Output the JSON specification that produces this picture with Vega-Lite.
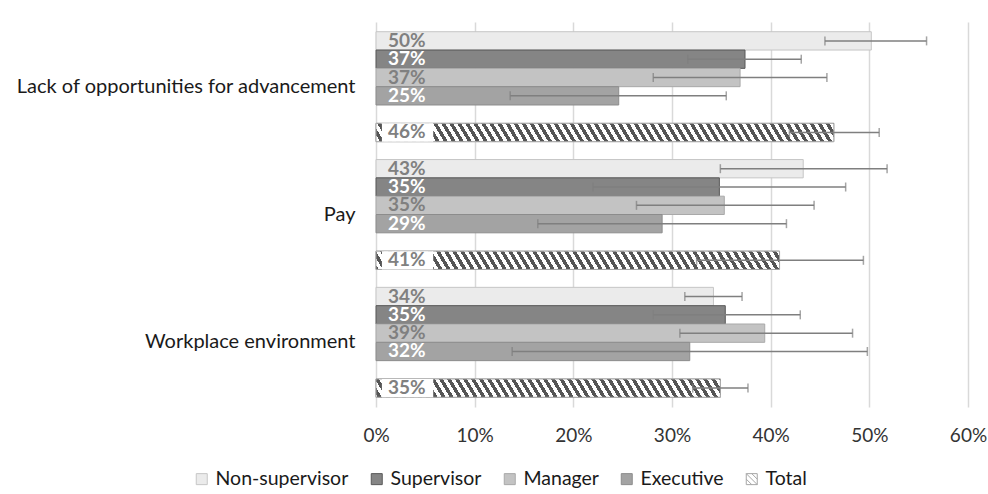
{
"$schema": "https://vega.github.io/schema/vega-lite/v6.json",
"width": 592,
"height": 385,
"autosize": "none",
"padding": {"left": 376, "top": 22, "right": 20, "bottom": 87},
"background": "white",
"config": {"font": "Lato", "view": {"stroke": null}},
"params": [{"name": "hatch", "value": [
{"offset":0,"color":"#555"},{"offset":0.008,"color":"#555"},{"offset":0.008,"color":"#fff"},{"offset":0.016,"color":"#fff"},
{"offset":0.016,"color":"#555"},{"offset":0.024,"color":"#555"},{"offset":0.024,"color":"#fff"},{"offset":0.032,"color":"#fff"},
{"offset":0.032,"color":"#555"},{"offset":0.04,"color":"#555"},{"offset":0.04,"color":"#fff"},{"offset":0.048,"color":"#fff"},
{"offset":0.048,"color":"#555"},{"offset":0.056,"color":"#555"},{"offset":0.056,"color":"#fff"},{"offset":0.064,"color":"#fff"},
{"offset":0.064,"color":"#555"},{"offset":0.072,"color":"#555"},{"offset":0.072,"color":"#fff"},{"offset":0.08,"color":"#fff"},
{"offset":0.08,"color":"#555"},{"offset":0.088,"color":"#555"},{"offset":0.088,"color":"#fff"},{"offset":0.096,"color":"#fff"},
{"offset":0.096,"color":"#555"},{"offset":0.104,"color":"#555"},{"offset":0.104,"color":"#fff"},{"offset":0.112,"color":"#fff"},
{"offset":0.112,"color":"#555"},{"offset":0.12,"color":"#555"},{"offset":0.12,"color":"#fff"},{"offset":0.128,"color":"#fff"},
{"offset":0.128,"color":"#555"},{"offset":0.136,"color":"#555"},{"offset":0.136,"color":"#fff"},{"offset":0.144,"color":"#fff"},
{"offset":0.144,"color":"#555"},{"offset":0.152,"color":"#555"},{"offset":0.152,"color":"#fff"},{"offset":0.16,"color":"#fff"},
{"offset":0.16,"color":"#555"},{"offset":0.168,"color":"#555"},{"offset":0.168,"color":"#fff"},{"offset":0.176,"color":"#fff"},
{"offset":0.176,"color":"#555"},{"offset":0.184,"color":"#555"},{"offset":0.184,"color":"#fff"},{"offset":0.192,"color":"#fff"},
{"offset":0.192,"color":"#555"},{"offset":0.2,"color":"#555"},{"offset":0.2,"color":"#fff"},{"offset":0.208,"color":"#fff"},
{"offset":0.208,"color":"#555"},{"offset":0.216,"color":"#555"},{"offset":0.216,"color":"#fff"},{"offset":0.224,"color":"#fff"},
{"offset":0.224,"color":"#555"},{"offset":0.232,"color":"#555"},{"offset":0.232,"color":"#fff"},{"offset":0.24,"color":"#fff"},
{"offset":0.24,"color":"#555"},{"offset":0.248,"color":"#555"},{"offset":0.248,"color":"#fff"},{"offset":0.256,"color":"#fff"},
{"offset":0.256,"color":"#555"},{"offset":0.264,"color":"#555"},{"offset":0.264,"color":"#fff"},{"offset":0.272,"color":"#fff"},
{"offset":0.272,"color":"#555"},{"offset":0.28,"color":"#555"},{"offset":0.28,"color":"#fff"},{"offset":0.288,"color":"#fff"},
{"offset":0.288,"color":"#555"},{"offset":0.296,"color":"#555"},{"offset":0.296,"color":"#fff"},{"offset":0.304,"color":"#fff"},
{"offset":0.304,"color":"#555"},{"offset":0.312,"color":"#555"},{"offset":0.312,"color":"#fff"},{"offset":0.32,"color":"#fff"},
{"offset":0.32,"color":"#555"},{"offset":0.328,"color":"#555"},{"offset":0.328,"color":"#fff"},{"offset":0.336,"color":"#fff"},
{"offset":0.336,"color":"#555"},{"offset":0.344,"color":"#555"},{"offset":0.344,"color":"#fff"},{"offset":0.352,"color":"#fff"},
{"offset":0.352,"color":"#555"},{"offset":0.36,"color":"#555"},{"offset":0.36,"color":"#fff"},{"offset":0.368,"color":"#fff"},
{"offset":0.368,"color":"#555"},{"offset":0.376,"color":"#555"},{"offset":0.376,"color":"#fff"},{"offset":0.384,"color":"#fff"},
{"offset":0.384,"color":"#555"},{"offset":0.392,"color":"#555"},{"offset":0.392,"color":"#fff"},{"offset":0.4,"color":"#fff"},
{"offset":0.4,"color":"#555"},{"offset":0.408,"color":"#555"},{"offset":0.408,"color":"#fff"},{"offset":0.416,"color":"#fff"},
{"offset":0.416,"color":"#555"},{"offset":0.424,"color":"#555"},{"offset":0.424,"color":"#fff"},{"offset":0.432,"color":"#fff"},
{"offset":0.432,"color":"#555"},{"offset":0.44,"color":"#555"},{"offset":0.44,"color":"#fff"},{"offset":0.448,"color":"#fff"},
{"offset":0.448,"color":"#555"},{"offset":0.456,"color":"#555"},{"offset":0.456,"color":"#fff"},{"offset":0.464,"color":"#fff"},
{"offset":0.464,"color":"#555"},{"offset":0.472,"color":"#555"},{"offset":0.472,"color":"#fff"},{"offset":0.48,"color":"#fff"},
{"offset":0.48,"color":"#555"},{"offset":0.488,"color":"#555"},{"offset":0.488,"color":"#fff"},{"offset":0.496,"color":"#fff"},
{"offset":0.496,"color":"#555"},{"offset":0.504,"color":"#555"},{"offset":0.504,"color":"#fff"},{"offset":0.512,"color":"#fff"},
{"offset":0.512,"color":"#555"},{"offset":0.52,"color":"#555"},{"offset":0.52,"color":"#fff"},{"offset":0.528,"color":"#fff"},
{"offset":0.528,"color":"#555"},{"offset":0.536,"color":"#555"},{"offset":0.536,"color":"#fff"},{"offset":0.544,"color":"#fff"},
{"offset":0.544,"color":"#555"},{"offset":0.552,"color":"#555"},{"offset":0.552,"color":"#fff"},{"offset":0.56,"color":"#fff"},
{"offset":0.56,"color":"#555"},{"offset":0.568,"color":"#555"},{"offset":0.568,"color":"#fff"},{"offset":0.576,"color":"#fff"},
{"offset":0.576,"color":"#555"},{"offset":0.584,"color":"#555"},{"offset":0.584,"color":"#fff"},{"offset":0.592,"color":"#fff"},
{"offset":0.592,"color":"#555"},{"offset":0.6,"color":"#555"},{"offset":0.6,"color":"#fff"},{"offset":0.608,"color":"#fff"},
{"offset":0.608,"color":"#555"},{"offset":0.616,"color":"#555"},{"offset":0.616,"color":"#fff"},{"offset":0.624,"color":"#fff"},
{"offset":0.624,"color":"#555"},{"offset":0.632,"color":"#555"},{"offset":0.632,"color":"#fff"},{"offset":0.64,"color":"#fff"},
{"offset":0.64,"color":"#555"},{"offset":0.648,"color":"#555"},{"offset":0.648,"color":"#fff"},{"offset":0.656,"color":"#fff"},
{"offset":0.656,"color":"#555"},{"offset":0.664,"color":"#555"},{"offset":0.664,"color":"#fff"},{"offset":0.672,"color":"#fff"},
{"offset":0.672,"color":"#555"},{"offset":0.68,"color":"#555"},{"offset":0.68,"color":"#fff"},{"offset":0.688,"color":"#fff"},
{"offset":0.688,"color":"#555"},{"offset":0.696,"color":"#555"},{"offset":0.696,"color":"#fff"},{"offset":0.704,"color":"#fff"},
{"offset":0.704,"color":"#555"},{"offset":0.712,"color":"#555"},{"offset":0.712,"color":"#fff"},{"offset":0.72,"color":"#fff"},
{"offset":0.72,"color":"#555"},{"offset":0.728,"color":"#555"},{"offset":0.728,"color":"#fff"},{"offset":0.736,"color":"#fff"},
{"offset":0.736,"color":"#555"},{"offset":0.744,"color":"#555"},{"offset":0.744,"color":"#fff"},{"offset":0.752,"color":"#fff"},
{"offset":0.752,"color":"#555"},{"offset":0.76,"color":"#555"},{"offset":0.76,"color":"#fff"},{"offset":0.768,"color":"#fff"},
{"offset":0.768,"color":"#555"},{"offset":0.776,"color":"#555"},{"offset":0.776,"color":"#fff"},{"offset":0.784,"color":"#fff"},
{"offset":0.784,"color":"#555"},{"offset":0.792,"color":"#555"},{"offset":0.792,"color":"#fff"},{"offset":0.8,"color":"#fff"},
{"offset":0.8,"color":"#555"},{"offset":0.808,"color":"#555"},{"offset":0.808,"color":"#fff"},{"offset":0.816,"color":"#fff"},
{"offset":0.816,"color":"#555"},{"offset":0.824,"color":"#555"},{"offset":0.824,"color":"#fff"},{"offset":0.832,"color":"#fff"},
{"offset":0.832,"color":"#555"},{"offset":0.84,"color":"#555"},{"offset":0.84,"color":"#fff"},{"offset":0.848,"color":"#fff"},
{"offset":0.848,"color":"#555"},{"offset":0.856,"color":"#555"},{"offset":0.856,"color":"#fff"},{"offset":0.864,"color":"#fff"},
{"offset":0.864,"color":"#555"},{"offset":0.872,"color":"#555"},{"offset":0.872,"color":"#fff"},{"offset":0.88,"color":"#fff"},
{"offset":0.88,"color":"#555"},{"offset":0.888,"color":"#555"},{"offset":0.888,"color":"#fff"},{"offset":0.896,"color":"#fff"},
{"offset":0.896,"color":"#555"},{"offset":0.904,"color":"#555"},{"offset":0.904,"color":"#fff"},{"offset":0.912,"color":"#fff"},
{"offset":0.912,"color":"#555"},{"offset":0.92,"color":"#555"},{"offset":0.92,"color":"#fff"},{"offset":0.928,"color":"#fff"},
{"offset":0.928,"color":"#555"},{"offset":0.936,"color":"#555"},{"offset":0.936,"color":"#fff"},{"offset":0.944,"color":"#fff"},
{"offset":0.944,"color":"#555"},{"offset":0.952,"color":"#555"},{"offset":0.952,"color":"#fff"},{"offset":0.96,"color":"#fff"},
{"offset":0.96,"color":"#555"},{"offset":0.968,"color":"#555"},{"offset":0.968,"color":"#fff"},{"offset":0.976,"color":"#fff"}
]}],
"data": {"values": [
{"category":"Lack of opportunities for advancement","series":"Non-supervisor","value":0.502,"lo":0.455,"hi":0.558},
{"category":"Lack of opportunities for advancement","series":"Supervisor","value":0.374,"lo":0.316,"hi":0.431},
{"category":"Lack of opportunities for advancement","series":"Manager","value":0.369,"lo":0.281,"hi":0.457},
{"category":"Lack of opportunities for advancement","series":"Executive","value":0.246,"lo":0.136,"hi":0.355},
{"category":"Lack of opportunities for advancement","series":"Total","value":0.464,"lo":0.419,"hi":0.510},
{"category":"Pay","series":"Non-supervisor","value":0.433,"lo":0.349,"hi":0.518},
{"category":"Pay","series":"Supervisor","value":0.348,"lo":0.220,"hi":0.476},
{"category":"Pay","series":"Manager","value":0.353,"lo":0.264,"hi":0.444},
{"category":"Pay","series":"Executive","value":0.290,"lo":0.164,"hi":0.416},
{"category":"Pay","series":"Total","value":0.409,"lo":0.325,"hi":0.494},
{"category":"Workplace environment","series":"Non-supervisor","value":0.342,"lo":0.313,"hi":0.371},
{"category":"Workplace environment","series":"Supervisor","value":0.354,"lo":0.281,"hi":0.430},
{"category":"Workplace environment","series":"Manager","value":0.394,"lo":0.308,"hi":0.483},
{"category":"Workplace environment","series":"Executive","value":0.318,"lo":0.138,"hi":0.498},
{"category":"Workplace environment","series":"Total","value":0.349,"lo":0.321,"hi":0.377}
]},
"encoding": {
  "y": {"field": "category", "type": "nominal", "sort": ["Lack of opportunities for advancement", "Pay", "Workplace environment"],
        "scale": {"paddingInner": 0.14, "paddingOuter": 0.076},
        "axis": {"title": null, "ticks": false, "domain": false, "labelFontSize": 20, "labelColor": "#1a1a1a", "labelPadding": 21, "labelLimit": 400}},
  "yOffset": {"field": "series", "type": "nominal",
        "scale": {"domain": ["Non-supervisor", "Supervisor", "Manager", "Executive", "gap", "Total"], "paddingInner": 0, "paddingOuter": 0}}
},
"layer": [
  {"mark": {"type": "bar", "strokeWidth": 1},
   "encoding": {
     "x": {"field": "value", "type": "quantitative", "scale": {"domain": [0, 0.6], "nice": false},
           "axis": {"title": null, "format": ".0%", "values": [0, 0.1, 0.2, 0.3, 0.4, 0.5, 0.6], "grid": true, "gridColor": "#d9d9d9", "gridWidth": 1.5, "ticks": false, "domain": false, "labelFlush": false, "labelFontSize": 19, "labelColor": "#333333", "labelPadding": 19}},
     "color": {"field": "series", "type": "nominal",
           "scale": {"domain": ["Non-supervisor", "Supervisor", "Manager", "Executive", "Total"], "range": ["#ebebeb", "#858585", "#c3c3c3", "#a3a3a3", "#ffffff"]},
           "legend": {"title": null, "orient": "none", "legendX": -184, "legendY": 447, "direction": "horizontal", "columns": 5, "columnPadding": 18,
                      "symbolType": "square", "symbolSize": 121, "labelFontSize": 19.5, "labelColor": "#1a1a1a", "labelOffset": 4, "padding": 0,
                      "encode": {"symbols": {"update": {
                        "shape": {"signal": "datum.value === 'Total' ? 'M-1,-1H1V1H-1ZM-1,-1L1,1M-1,0L0,1M0,-1L1,0' : 'square'"},
                        "stroke": {"signal": "datum.value === 'Total' ? '#595959' : '#8c8c8c'"},
                        "strokeWidth": {"value": 1}}}}}},
     "stroke": {"field": "series", "type": "nominal",
           "scale": {"domain": ["Non-supervisor", "Supervisor", "Manager", "Executive", "Total"], "range": ["#c6c6c6", "#595959", "#a9a9a9", "#8c8c8c", "#a6a6a6"]},
           "legend": null}
   }},
  {"transform": [{"filter": "datum.series === 'Total'"}],
   "mark": {"type": "bar", "stroke": "#a6a6a6", "strokeWidth": 1,
            "fill": {"expr": "{gradient: 'linear', x1: -0.05, y1: 0, x2: -0.05 + 500 / scale('x', datum.value), y2: -5490 / pow(scale('x', datum.value), 2), stops: hatch}"}},
   "encoding": {"x": {"field": "value", "type": "quantitative"}}},
  {"transform": [{"filter": "datum.series === 'Total'"}],
   "mark": {"type": "bar", "fill": "white", "strokeWidth": 0},
   "encoding": {"x": {"datum": 0.006}, "x2": {"datum": 0.058}}},
  {"mark": {"type": "rule", "color": "#7f7f7f", "strokeWidth": 1.5},
   "encoding": {"x": {"field": "lo", "type": "quantitative"}, "x2": {"field": "hi"}}},
  {"mark": {"type": "tick", "color": "#7f7f7f", "thickness": 1.5, "size": 9},
   "encoding": {"x": {"field": "lo", "type": "quantitative"}}},
  {"mark": {"type": "tick", "color": "#7f7f7f", "thickness": 1.5, "size": 9},
   "encoding": {"x": {"field": "hi", "type": "quantitative"}}},
  {"mark": {"type": "text", "align": "left", "baseline": "middle", "dx": 12, "fontSize": 19, "fontWeight": "bold"},
   "encoding": {
     "x": {"datum": 0},
     "text": {"field": "value", "type": "quantitative", "format": ".0%"},
     "color": {"condition": {"test": "datum.series === 'Supervisor' || datum.series === 'Executive'", "value": "#ffffff"}, "value": "#808080"}
   }}
]
}
